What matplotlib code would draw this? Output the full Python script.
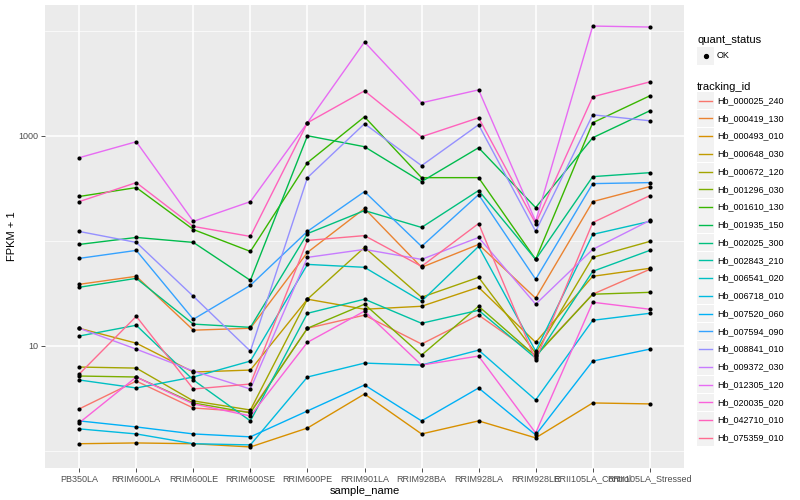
import matplotlib
matplotlib.use('Agg')
import numpy as np
import matplotlib.pyplot as plt
from matplotlib.patches import Rectangle
from matplotlib.lines import Line2D
from matplotlib.ticker import NullFormatter

# samples on the x axis
samples = ["PB350LA", "RRIM600LA", "RRIM600LE", "RRIM600SE", "RRIM600PE",
           "RRIM901LA", "RRIM928BA", "RRIM928LA", "RRIM928LE",
           "RRII105LA_Control", "RRII105LA_Stressed"]

tracking_ids = ["Hb_000025_240", "Hb_000419_130", "Hb_000493_010", "Hb_000648_030",
                "Hb_000672_120", "Hb_001296_030", "Hb_001610_130", "Hb_001935_150",
                "Hb_002025_300", "Hb_002843_210", "Hb_006541_020", "Hb_006718_010",
                "Hb_007520_060", "Hb_007594_090", "Hb_008841_010", "Hb_009372_030",
                "Hb_012305_120", "Hb_020035_020", "Hb_042710_010", "Hb_075359_010"]

# default ggplot hue palette for 20 groups
line_colors = ["#F8766D", "#EA8331", "#D89000", "#C09B00", "#A3A500", "#7CAE00",
               "#39B600", "#00BB4E", "#00BF7D", "#00C1A3", "#00BFC4", "#00BAE0",
               "#00B0F6", "#35A2FF", "#9590FF", "#C77CFF", "#E76BF3", "#FA62DB",
               "#FF62BC", "#FF6C91"]

# FPKM + 1, one row per tracking id, one column per sample
fpkm = [
    [2.51, 4.62, 2.56, 2.35, 14.7, 19.6, 10.4, 19.6, 8.16, 31.0, 53.5],
    [38.5, 45.9, 14.1, 14.7, 77.5, 203, 55.9, 92.3, 28.4, 236, 328],
    [1.17, 1.19, 1.17, 1.09, 1.65, 3.48, 1.45, 1.93, 1.33, 2.86, 2.80],
    [14.7, 10.6, 5.63, 5.88, 27.8, 22.3, 23.8, 36.1, 10.8, 45.9, 54.7],
    [6.28, 6.14, 2.99, 2.45, 27.8, 86.5, 29.0, 44.9, 8.52, 69.5, 98.6],
    [5.16, 5.05, 2.86, 2.30, 14.7, 24.9, 8.16, 23.8, 7.99, 31.0, 32.3],
    [264, 321, 128, 79.2, 554, 1515, 399, 399, 66.5, 1329, 2398],
    [92.3, 107.6, 96.5, 42.0, 1000, 786, 366, 769, 207, 957, 1727],
    [36.1, 43.9, 16.1, 15.0, 117, 194, 134, 301, 66.5, 408, 445],
    [12.4, 15.7, 4.73, 1.93, 20.4, 27.8, 16.4, 21.8, 7.64, 51.2, 81.0],
    [4.73, 3.97, 5.05, 7.16, 59.6, 55.9, 26.6, 88.4, 8.9, 115, 153],
    [1.62, 1.45, 1.17, 1.14, 5.05, 6.85, 6.56, 9.10, 3.05, 17.5, 20.4],
    [1.93, 1.69, 1.45, 1.36, 2.40, 4.24, 1.93, 3.97, 1.42, 7.16, 9.30],
    [68.0, 81.0, 17.9, 37.7, 123, 294, 88.4, 275, 43.0, 350, 358],
    [122.7, 96.5, 29.6, 8.9, 399, 1300, 519, 1272, 123, 1582, 1388],
    [14.7, 9.30, 5.75, 3.88, 69.5, 82.8, 66.5, 107.6, 24.9, 82.8, 156],
    [618, 877, 153, 236, 1329, 7803, 2057, 2733, 153, 11070, 10830],
    [1.85, 5.05, 2.80, 2.15, 10.8, 21.4, 6.56, 7.99, 1.48, 26.0, 22.3],
    [236, 358, 137, 110, 1329, 2674, 978, 1482, 146, 2346, 3255],
    [5.39, 19.1, 3.88, 4.33, 100.8, 112, 57.1, 146, 7.32, 149, 269],
]

plt.rcParams['font.family'] = ['Liberation Sans', 'DejaVu Sans']

W, H = 800, 500
fig = plt.figure(figsize=(8, 5), dpi=100)
ax = fig.add_axes([45/W, 32/H, 639/W, 463/H])
ax.set_facecolor('#EBEBEB')

x = np.arange(len(samples))
for vals, col in zip(fpkm, line_colors):
    ax.plot(x, vals, color=col, lw=1.0, zorder=3)
for vals in fpkm:
    ax.scatter(x, vals, s=9, color='black', zorder=4, linewidths=0)

ax.set_yscale('log')
logs = np.log10(np.array(fpkm))
lo, hi = logs.min(), logs.max()
pad = 0.05*(hi - lo)
ax.set_ylim(10**(lo - pad), 10**(hi + pad))
ax.set_xlim(-0.6, len(samples) - 1 + 0.6)

ax.set_yticks([10, 1000])
ax.set_yticklabels(['10', '1000'])
ax.set_yticks([1, 100, 10000], minor=True)
ax.yaxis.set_minor_formatter(NullFormatter())
ax.set_xticks(x)
ax.set_xticklabels(samples)

ax.grid(which='major', color='white', lw=1.1)
ax.grid(which='minor', axis='y', color='white', lw=0.5)
ax.set_axisbelow(True)
for s in ax.spines.values():
    s.set_visible(False)
ax.tick_params(which='major', length=2.8, width=0.6, color='#333333',
               labelsize=6.5, labelcolor='#4D4D4D', pad=2)
ax.tick_params(which='minor', length=0)

ax.set_xlabel('sample_name', fontsize=8, labelpad=2)
ax.set_ylabel('FPKM + 1', fontsize=8, labelpad=1)

# legends drawn by hand, ggplot style
def fx(px):
    return px / W

def fy(py):
    return 1 - py / H

fig.text(fx(697), fy(40), 'quant_status', fontsize=8, va='center')
fig.add_artist(Rectangle((fx(697), fy(64.5)), 17/W, 17/H, transform=fig.transFigure,
                         facecolor='#F2F2F2', edgecolor='none'))
fig.add_artist(Line2D([fx(705.5)], [fy(56)], marker='o', ms=2.8, color='black',
                      transform=fig.transFigure))
fig.text(fx(717), fy(56), 'OK', fontsize=6.5, va='center')

fig.text(fx(697), fy(87), 'tracking_id', fontsize=8, va='center')
for i, (name, col) in enumerate(zip(tracking_ids, line_colors)):
    yc = 100.7 + i*17.75
    fig.add_artist(Rectangle((fx(697), fy(yc + 8.5)), 17/W, 17/H, transform=fig.transFigure,
                             facecolor='#F2F2F2', edgecolor='none'))
    fig.add_artist(Line2D([fx(699), fx(712)], [fy(yc), fy(yc)], color=col, lw=1.0,
                          transform=fig.transFigure))
    fig.text(fx(717), fy(yc), name, fontsize=6.5, va='center')

fig.savefig('out.png', dpi=100)
